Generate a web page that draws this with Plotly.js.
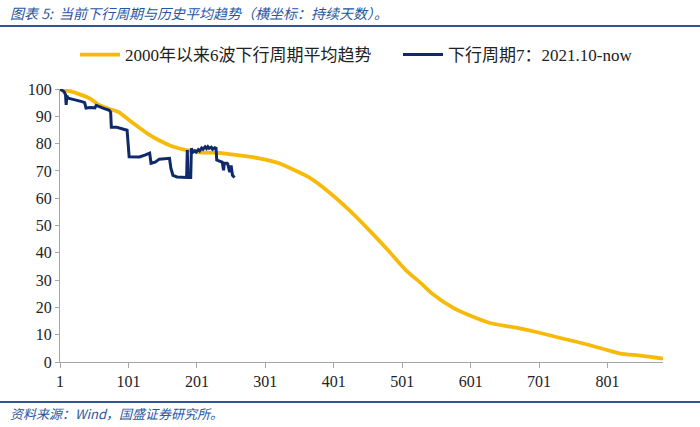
<!DOCTYPE html>
<html>
<head>
<meta charset="utf-8">
<script src="https://cdn.plot.ly/plotly-3.0.1.min.js"></script>
<style>html,body{margin:0;padding:0;background:#fff;}#chart{width:700px;height:427px;}</style>
</head>
<body>
<div id="chart"></div>
<script>
// Average of 6 downturn cycles since 2000 (x = days elapsed)
const avgDays   = [1, 15, 28, 45, 57, 72, 87, 100, 116, 130, 145, 160, 174, 190, 204, 233, 262, 292, 321, 350, 365, 395, 424, 453, 480, 507, 530, 545, 575, 600, 629, 669, 700, 732, 770, 806, 820, 850, 882];
const avgValues = [100, 99.2, 98.2, 96.5, 94.3, 92.8, 91.5, 89, 86, 83.5, 81.3, 79.5, 78.3, 77.4, 76.8, 76.6, 75.7, 74.6, 72.8, 69.5, 67.6, 62, 55.5, 48.2, 41, 33.5, 28.5, 25, 19.9, 17, 14.3, 12.5, 10.8, 8.8, 6.5, 4, 3.1, 2.3, 1.2];

// Current downturn cycle 7: 2021.10-now
const curDays   = [1, 4, 7, 9, 10, 11, 13, 20, 28, 33, 37, 39, 45, 52, 54, 57, 62, 66, 70, 73, 75, 76, 84, 90, 96, 99, 102, 110, 117, 125, 132, 134, 140, 146, 155, 161, 163, 166, 172, 180, 186, 187, 188, 192, 193, 195, 198, 200, 203, 205, 208, 210, 213, 215, 217, 219, 222, 224, 227, 229, 230, 233, 238, 240, 241, 245, 246, 249, 251, 253, 256];
const curValues = [100, 99.6, 99, 98, 94.2, 97.5, 96.6, 96.2, 95.8, 95.4, 95, 93, 93.2, 93.1, 94, 93.8, 93.2, 92.8, 92.4, 92.2, 91.5, 86, 86, 85.5, 85, 84.9, 75.2, 75, 75.1, 75.8, 76.5, 72.8, 73.2, 74.3, 74.5, 74.6, 71, 68.4, 67.8, 67.6, 67.6, 77.6, 67.6, 67.6, 78.3, 76.8, 77.4, 76.9, 77.8, 77.3, 78.4, 77.9, 78.8, 78.2, 78.9, 78.3, 78.7, 77.9, 78.5, 78.3, 74, 73.7, 73.2, 70.2, 72.8, 72.8, 72.6, 69.5, 72, 68.4, 67.6];

const xTickVals = [1, 101, 201, 301, 401, 501, 601, 701, 801];
const yTickVals = [0, 10, 20, 30, 40, 50, 60, 70, 80, 90, 100];

const avgName = '2000年以来6波下行周期平均趋势';
const curName = '下行周期7：2021.10-now';
const titleText = '图表 5:  当前下行周期与历史平均趋势（横坐标：持续天数）。';
const sourceText = '资料来源：Wind，国盛证券研究所。';

const serif = '"Liberation Serif", "Noto Sans CJK SC", serif';
const cjk = '"Noto Sans CJK SC", "Liberation Sans", sans-serif';
const blueText = '#2A56A0';

const plotL = 60, plotR = 663, plotT = 89, plotB = 362;
const pw = plotR - plotL, ph = plotB - plotT;
const px2x = p => (p - plotL) / pw;
const py2y = p => (plotB - p) / ph;

const traces = [
  {x: avgDays, y: avgValues, type: 'scatter', mode: 'lines', name: avgName, legend: 'legend',
   line: {color: '#F7BA0B', width: 3.8, shape: 'spline', smoothing: 0.6}},
  {x: curDays, y: curValues, type: 'scatter', mode: 'lines', name: curName, legend: 'legend2',
   line: {color: '#0E2A6B', width: 3}}
];

const legendBase = {orientation: 'h', xref: 'container', yref: 'container', xanchor: 'left',
  y: 1 - 55 / 427, yanchor: 'middle', font: {family: serif, size: 17, color: '#222'},
  itemwidth: 40, bgcolor: 'rgba(0,0,0,0)'};

const layout = {
  width: 700, height: 427,
  margin: {l: plotL, r: 700 - plotR, t: plotT, b: 427 - plotB},
  paper_bgcolor: '#fff', plot_bgcolor: '#fff',
  showlegend: true,
  legend: Object.assign({}, legendBase, {x: 75 / 700}),
  legend2: Object.assign({}, legendBase, {x: 398 / 700}),
  xaxis: {range: [1, 882], tickmode: 'array', tickvals: xTickVals, showgrid: false, zeroline: false,
          showline: true, linecolor: '#A6A6A6', linewidth: 1, ticks: 'outside', ticklen: 5, tickcolor: '#A6A6A6',
          tickfont: {family: serif, size: 16, color: '#222'}},
  yaxis: {range: [0, 100], tickmode: 'array', tickvals: yTickVals, showgrid: false, zeroline: false,
          showline: true, linecolor: '#A6A6A6', linewidth: 1, ticks: 'outside', ticklen: 4, tickcolor: '#A6A6A6',
          tickfont: {family: serif, size: 16, color: '#222'}},
  shapes: [
    {type: 'line', xref: 'paper', yref: 'paper', x0: px2x(0), x1: px2x(700), y0: py2y(26), y1: py2y(26),
     line: {color: '#2E5597', width: 2}},
    {type: 'line', xref: 'paper', yref: 'paper', x0: px2x(0), x1: px2x(700), y0: py2y(402), y1: py2y(402),
     line: {color: '#2E5597', width: 2}}
  ],
  annotations: [
    {text: '<i>' + titleText + '</i>', xref: 'paper', yref: 'paper', x: px2x(8), y: py2y(13),
     xanchor: 'left', yanchor: 'middle', showarrow: false, font: {family: cjk, size: 14, color: blueText}},
    {text: '<i>' + sourceText + '</i>', xref: 'paper', yref: 'paper', x: px2x(8), y: py2y(413),
     xanchor: 'left', yanchor: 'middle', showarrow: false, font: {family: cjk, size: 13, color: blueText}}
  ]
};

Plotly.newPlot('chart', traces, layout, {staticPlot: true, displayModeBar: false});
</script>
</body>
</html>
